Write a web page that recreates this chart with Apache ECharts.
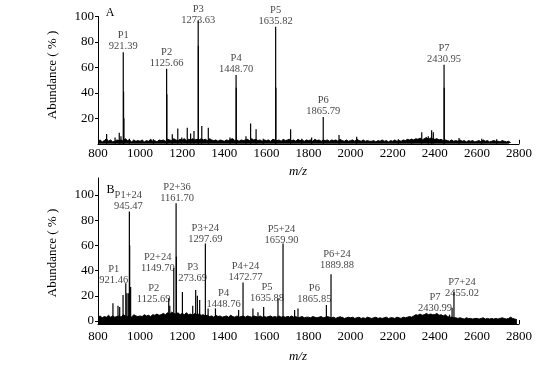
<!DOCTYPE html>
<html><head><meta charset="utf-8">
<script src="https://cdn.jsdelivr.net/npm/echarts@6/dist/echarts.min.js"></script>
<style>html,body{margin:0;padding:0;background:#fff}#c{width:560px;height:375px}</style>
</head><body><div id="c"></div>
<script>
// ---------- data ----------
const xTicks = [800, 1000, 1200, 1400, 1600, 1800, 2000, 2200, 2400, 2600, 2800];
const yTicksA = [20, 40, 60, 80, 100];
const yTicksB = [0, 20, 40, 60, 80, 100];
const noiseStart = 800, noiseStep = 10;

// panel A baseline noise (abundance %, every 10 m/z from 800)
const noiseA = [
 2,3,1.5,2.5,4,2,3,1.5,2,3,
 2.5,3,2,4,2.5,3,1.5,3,2,2.5,
 2,3,1.5,2.5,2,3.5,2,2.5,1.5,3,
 2.5,3,2,3.5,3,2.5,4,3,2.5,3.5,
 3,4,2.5,3.5,3,4,3,3.5,3,4,
 3,3.5,2.5,4,3,2.5,3,2,3,2.5,
 2,3,2.5,3.5,4,2.5,3,2,3,2.5,
 3,3.5,2.5,4,3,3.5,2.5,3,2,3,
 2.5,3,2,3.5,3,2.5,3,2,3.5,2.5,
 3,3.5,2.5,3,2,3.5,2.5,3,2,3,
 2.5,3,2,3.5,2.5,3,2,3,2.5,3,
 2,3,2.5,3,2,3.5,2.5,2,3,2,
 2.5,3,2,3.5,2.5,2,3,2,2.5,2,
 2,2.5,1.5,2.5,2,3,2,2.5,1.5,2.5,
 2,3,2,2.5,2,3,2.5,3.5,3,3.5,
 3,4,3.5,4.5,3,4,5,3.5,4.5,4,
 3.5,4,3,3.5,2.5,3,2.5,2,3,2,
 2.5,2,3,2,2.5,1.5,2.5,2,2.5,1.5,
 2,2.5,1.5,3,2,2.5,1.5,2,2.5,2,
 2,1.5,2.5,2,1.5,2,1
];
// panel A labelled peaks
const peakNameA  = ['P1','P2','P3','P4','P5','P6','P7'];
const peakTextA  = ['921.39','1125.66','1273.63','1448.70','1635.82','1865.79','2430.95'];
const peakMzA    = [920, 1126, 1276, 1456, 1644, 1870, 2444];
const peakAbA    = [72, 59, 97, 54, 92, 21, 62];
// panel A minor peaks
const minorMzA = [841,881,901,909,921.5,923,949,1063,1127,1153,1179,1198,1224,1240,1256,1277,1293,1324,1427,1457,1503,1525,1551,1585,1645,1715,1768,1815,1945,2029,2227,2290,2338,2369,2385,2393,2445,2515,2623,2694];
const minorAbA = [7.7,5,8.6,6,41,20,4,3.5,39,7.6,12,5,12.7,8,10,77,14,12.7,5,44,6,16,11.5,4,44,11.5,4,5,7,5.5,3.5,4,9,6,10.7,9,44,4.5,4,3.5];

// panel B baseline noise
const noiseB = [
 3,4,2.5,3.5,3,4.5,3,4,3,3.5,
 4,3,5,4,3.5,4.5,3,5,4,3.5,
 4,3.5,5,4,4.5,3.5,5,4.5,5.5,4.5,
 5,6,5,6.5,5.5,7,6,5.5,6.5,5,
 6,5,6.5,5,5.5,4.5,6,5,5.5,4.5,
 5,4,4.5,3.5,4,3,4.5,3.5,4,3,
 3.5,4,3,4.5,3.5,3,4,3,3.5,4,
 3,4,3.5,3,4,3.5,3,4,3,3.5,
 3,3.5,4,3,3.5,3,4,3,3.5,3,
 3.5,3,4,3,3.5,2.5,3,3.5,2.5,3,
 3,2.5,3.5,3,2.5,3,3.5,2.5,3,3.5,
 3,2.5,3,2,3,2.5,3,2,2.5,3,
 2.5,3,2,2.5,3,2,2.5,2,3,2.5,
 2,2.5,3,2,2.5,2,2.5,3,2,2.5,
 2.5,2,3,2.5,2,3,2.5,3,3.5,3,
 4,5,4.5,5.5,4.5,5,6,5,5.5,5,
 5,6,4.5,5,4,5,3.5,3,3,2.5,
 2.5,2,2.5,2,1.5,2.5,2,2,1.5,2,
 2,1.5,2,2.5,1.5,2,1.5,2,1.5,2,
 1.5,2,2.5,2,1.5,2,3,2,1.5,1
];
const peakNameB = ['P1','P1+24','P2','P2+24','P2+36','P3','P3+24','P4','P4+24','P5','P5+24','P6','P6+24','P7','P7+24'];
const peakTextB = ['921.46','945.47','1125.69','1149.70','1161.70','273.69','1297.69','1448.76','1472.77','1635.88','1659.90','1865.85','1889.88','2430.99','2455.02'];
const peakMzB   = [932, 949, 1136, 1160, 1171, 1264, 1310, 1468, 1489, 1655, 1679, 1885, 1907, 2482, 2491];
const peakAbB   = [30, 87, 18, 42, 93.4, 24.6, 61.6, 8.7, 30.5, 18, 61.6, 12.7, 37, 10.5, 23];
const minorMzB = [871,895,903,919,937,944,950.5,955,1141,1172.5,1201,1250,1272,1283,1323,1358,1413,1536,1560,1587,1704,1734,1750,1950,2470];
const minorAbB = [14,12,11,20.6,22,22,60,27,12,51,23,12,20,16.7,10,10,4,10,7,11,4,8.7,10,4,5];

// ---------- styles / layout ----------
const FONT = "'Liberation Serif','Times New Roman',serif";
const labelShiftA = { 'P3': [0, 5] };
const labelShiftB = {
  'P1': [-12, 3], 'P1+24': [-1, 0], 'P2': [-15, 6.5], 'P2+24': [-16, 5.5], 'P2+36': [1, 0],
  'P3': [-3, -6], 'P3+24': [0, 1.5], 'P4': [-15, 0], 'P4+24': [2.5, 0], 'P5': [-11, 5],
  'P5+24': [-1.5, 2.5], 'P6': [-12, 0], 'P6+24': [6, -4], 'P7': [-17, 6], 'P7+24': [8, 7]
};

function noisePoints(arr) { return arr.map((v, i) => [noiseStart + i * noiseStep, v]); }
function sticks(mzs, abs, mzs2, abs2) {
  const out = mzs.map((m, i) => [m, abs[i]]).concat(mzs2.map((m, i) => [m, abs2[i]]));
  return out.sort((a, b) => a[0] - b[0]);
}
function labelData(names, texts, mzs, abs, shifts) {
  return names.map((n, i) => ({
    value: [mzs[i], abs[i]], name: n,
    label: { offset: shifts[n] || [0, 0], formatter: n + '\n' + texts[i] }
  }));
}

const chart = echarts.init(document.getElementById('c'), null, { renderer: 'canvas' });

function xAxisCfg(gi, margin) {
  return {
    type: 'value', gridIndex: gi, min: 800, max: 2800, interval: 200,
    axisLine: { onZero: false, lineStyle: { color: '#000', width: 1 } },
    axisTick: { show: true, inside: true, length: 4, customValues: [2800], lineStyle: { color: '#000' } },
    axisLabel: { customValues: xTicks, formatter: v => String(v), margin: margin, color: '#000', fontFamily: FONT, fontSize: 13 },
    splitLine: { show: false }
  };
}
function yAxisCfg(gi, min, max, ticks) {
  return {
    type: 'value', gridIndex: gi, min: min, max: max,
    axisLine: { show: true, onZero: false, lineStyle: { color: '#000', width: 1 } },
    axisTick: { show: true, length: 3, customValues: ticks, lineStyle: { color: '#000' } },
    axisLabel: { customValues: ticks, formatter: v => String(v), margin: 4, color: '#000', fontFamily: FONT, fontSize: 13 },
    splitLine: { show: false }
  };
}
const lblStyle = { show: true, position: 'top', distance: 0, color: '#111', fontFamily: FONT, fontSize: 10.5, lineHeight: 11, align: 'center' };

chart.setOption({
  animation: false,
  backgroundColor: '#fff',
  grid: [
    { left: 98, width: 421, top: 16.5, height: 127.3 },
    { left: 98, width: 421, top: 178, height: 146 }
  ],
  xAxis: [xAxisCfg(0, 3), xAxisCfg(1, 6)],
  yAxis: [yAxisCfg(0, 0, 100, yTicksA), yAxisCfg(1, -2.4, 113.5, yTicksB)],
  series: [
    { type: 'line', xAxisIndex: 0, yAxisIndex: 0, data: noisePoints(noiseA), symbol: 'none',
      lineStyle: { color: '#000', width: 1 }, areaStyle: { color: '#000', opacity: 1, origin: 'start' }, silent: true },
    { type: 'bar', xAxisIndex: 0, yAxisIndex: 0, data: sticks(peakMzA, peakAbA, minorMzA, minorAbA), barWidth: 1.2,
      itemStyle: { color: '#000' }, silent: true },
    { type: 'scatter', xAxisIndex: 0, yAxisIndex: 0, symbolSize: 0, data: labelData(peakNameA, peakTextA, peakMzA, peakAbA, labelShiftA),
      label: lblStyle, z: 5, silent: true },
    { type: 'line', xAxisIndex: 1, yAxisIndex: 1, data: noisePoints(noiseB), symbol: 'none',
      lineStyle: { color: '#000', width: 1 }, areaStyle: { color: '#000', opacity: 1, origin: 'start' }, silent: true },
    { type: 'bar', xAxisIndex: 1, yAxisIndex: 1, data: sticks(peakMzB, peakAbB, minorMzB, minorAbB), barWidth: 1.2,
      itemStyle: { color: '#000' }, silent: true },
    { type: 'scatter', xAxisIndex: 1, yAxisIndex: 1, symbolSize: 0, data: labelData(peakNameB, peakTextB, peakMzB, peakAbB, labelShiftB),
      label: lblStyle, z: 5, silent: true }
  ],
  graphic: [
    { type: 'text', x: 110, y: 13, style: { text: 'A', fontFamily: FONT, fontSize: 12, fill: '#000', align: 'center', verticalAlign: 'middle' } },
    { type: 'text', x: 110.5, y: 190, style: { text: 'B', fontFamily: FONT, fontSize: 12, fill: '#000', align: 'center', verticalAlign: 'middle' } },
    { type: 'text', x: 53, y: 75, rotation: Math.PI / 2, style: { text: 'Abundance ( % )', fontFamily: FONT, fontSize: 13, fill: '#000', align: 'center', verticalAlign: 'middle' } },
    { type: 'text', x: 53, y: 253, rotation: Math.PI / 2, style: { text: 'Abundance ( % )', fontFamily: FONT, fontSize: 13, fill: '#000', align: 'center', verticalAlign: 'middle' } },
    { type: 'text', x: 298, y: 172, style: { text: 'm/z', fontFamily: FONT, fontStyle: 'italic', fontSize: 13, fill: '#000', align: 'center', verticalAlign: 'middle' } },
    { type: 'text', x: 298, y: 357, style: { text: 'm/z', fontFamily: FONT, fontStyle: 'italic', fontSize: 13, fill: '#000', align: 'center', verticalAlign: 'middle' } }
  ]
});
</script></body></html>
